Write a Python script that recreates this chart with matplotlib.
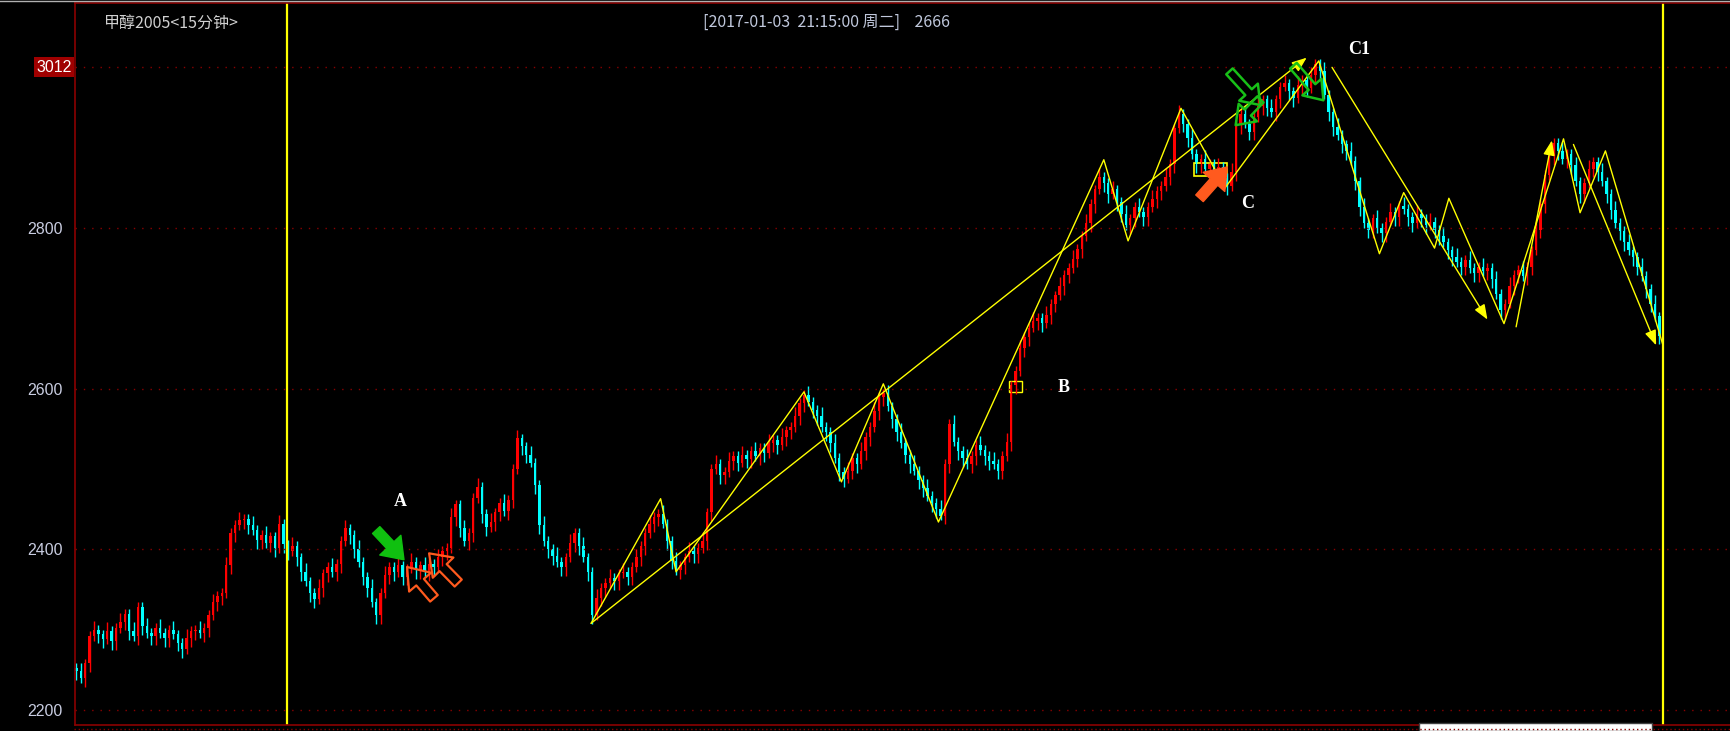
import matplotlib
matplotlib.use('Agg')
import matplotlib.pyplot as plt
from matplotlib.patches import Rectangle

# 15-minute closes, one per bar left to right
closes = [
    2248, 2240, 2258, 2292, 2300, 2294, 2288, 2298, 2286, 2302,
    2310, 2320, 2298, 2292, 2328, 2304, 2296, 2292, 2302, 2296,
    2290, 2300, 2294, 2284, 2276, 2290, 2298, 2300, 2296, 2302,
    2318, 2334, 2342, 2346, 2380, 2420, 2430, 2436, 2438, 2430,
    2424, 2412, 2418, 2408, 2416, 2402, 2432, 2406, 2398, 2404,
    2390, 2372, 2360, 2346, 2338, 2352, 2370, 2378, 2372, 2382,
    2410, 2426, 2418, 2400, 2384, 2366, 2352, 2334, 2318, 2346,
    2368, 2378, 2372, 2380, 2366, 2376, 2384, 2374, 2380, 2372,
    2382, 2378, 2390, 2398, 2402, 2440, 2456, 2426, 2410, 2420,
    2464, 2478, 2444, 2428, 2434, 2446, 2458, 2448, 2462, 2500,
    2538, 2528, 2518, 2508, 2480, 2430, 2410, 2400, 2392, 2384,
    2378, 2390, 2408, 2420, 2404, 2390, 2372, 2318, 2340, 2352,
    2358, 2364, 2360, 2370, 2372, 2366, 2378, 2390, 2404, 2420,
    2432, 2440, 2444, 2432, 2410, 2386, 2374, 2380, 2390, 2398,
    2394, 2402, 2410, 2446, 2500, 2506, 2492, 2496, 2510, 2516,
    2508, 2518, 2512, 2522, 2516, 2526, 2520, 2532, 2536, 2530,
    2540, 2548, 2552, 2566, 2582, 2592, 2584, 2574, 2566, 2552,
    2546, 2532, 2514, 2496, 2488, 2498, 2514, 2506, 2522, 2540,
    2552, 2572, 2590, 2594, 2578, 2562, 2546, 2532, 2518, 2506,
    2498, 2486, 2476, 2466, 2458, 2450, 2442, 2506, 2556, 2534,
    2522, 2514, 2506, 2516, 2530, 2524, 2516, 2510, 2506, 2498,
    2516, 2534, 2604, 2622, 2650, 2664, 2676, 2684, 2688, 2682,
    2692, 2706, 2716, 2728, 2742, 2750, 2762, 2774, 2790, 2806,
    2830, 2848, 2864, 2856, 2842, 2848, 2832, 2818, 2804, 2812,
    2826, 2820, 2814, 2826, 2836, 2846, 2852, 2864, 2880, 2924,
    2942, 2930, 2912, 2892, 2880, 2886, 2874, 2880, 2870, 2876,
    2862, 2852, 2870, 2928, 2942, 2930, 2920, 2938, 2952, 2960,
    2950, 2944, 2960, 2976, 2980, 2970, 2962, 2978, 2984, 2974,
    2990, 3004, 2996, 2966, 2944, 2926, 2916, 2904, 2896, 2884,
    2858, 2826, 2806, 2798, 2812, 2800, 2794, 2808, 2820, 2814,
    2828, 2824, 2814, 2806, 2818, 2812, 2804, 2808, 2798, 2790,
    2782, 2772, 2764, 2758, 2752, 2760, 2750, 2744, 2752, 2746,
    2750, 2736, 2718, 2698, 2706, 2728, 2742, 2748, 2740, 2752,
    2772, 2798, 2830, 2866, 2890, 2906, 2896, 2886, 2892, 2878,
    2858, 2842, 2856, 2874, 2882, 2870, 2858, 2842, 2822, 2806,
    2796, 2782, 2772, 2764, 2752, 2740, 2724, 2706, 2690, 2666,
]
first_open = 2252

# zigzag drawn over the candles (bar index, price)
zz_x = [116.75, 132.5, 136, 165, 173.5, 183, 195.5, 233, 238.5, 250.5, 260.5,
        281.75, 295.5, 301, 308, 311.25, 323.75, 337.25, 341, 346.75, 359.75]
zz_y = [2308, 2463, 2372, 2596, 2484, 2606, 2434, 2885, 2784, 2949, 2850,
        3008, 2768, 2844, 2775, 2837, 2681, 2911, 2819, 2896, 2655]

# straight trend lines ending in an arrow: (x0, y0, x1, y1)
trend_lines = [
    (116.75, 2308, 279.0, 3012),
    (284.75, 3000, 320.0, 2686),
    (326.5, 2677, 334.6, 2909),
    (339.5, 2904, 358.25, 2654),
]

labels = ['A', 'B', 'C', 'C1']
label_x = [72.1, 222.5, 264.2, 288.5]
label_y = [2459, 2601, 2830, 3022]

grid_levels = [2200, 2400, 2600, 2800, 3000]
tick_text = ['2200', '2400', '2600', '2800', '']
session_lines = [47.8, 359.9]

BG = '#000000'
UP = '#ff0000'
DOWN = '#00ffff'
YEL = '#ffff00'
FRAME = '#8b0000'

fig = plt.figure(figsize=(17.3, 7.31), dpi=100, facecolor=BG)
ax = fig.add_axes([75 / 1730, 6 / 731, 1 - 75 / 1730, 722 / 731])
ax.set_facecolor(BG)

opens = [first_open] + closes[:-1]
for i, (o, c) in enumerate(zip(opens, closes)):
    if c > o:
        col = UP
    elif c < o:
        col = DOWN
    else:
        col = '#ffffff'
    # longer shadow on every other bar so the tape looks less smooth
    wick = 11 if i % 3 == 1 else 6
    hi = max(o, c) + wick
    lo = min(o, c) - (17 - wick)
    ax.vlines(i, lo, hi, color=col, lw=1)
    h = abs(c - o) if abs(c - o) > 1.5 else 1.5
    ax.bar(i, h, bottom=min(o, c), width=0.55, color=col, lw=0)

for lvl in grid_levels:
    ax.axhline(lvl, color=FRAME, lw=1, ls=(0, (1, 5)))

for sx in session_lines:
    ax.axvline(sx, color=YEL, lw=1.6)

ax.plot(zz_x, zz_y, color=YEL, lw=1)
for x0, y0, x1, y1 in trend_lines:
    ax.annotate('', xy=(x1, y1), xytext=(x0, y0),
                arrowprops=dict(arrowstyle='-|>,head_length=0.9,head_width=0.35',
                                color=YEL, lw=1, shrinkA=0, shrinkB=0))

# small hollow boxes
ax.add_patch(Rectangle((211.6, 2596), 2.8, 14, fill=False, ec=YEL, lw=1))
ax.add_patch(Rectangle((253.5, 2865), 7.5, 16, fill=False, ec=YEL, lw=1.2))

# hand-drawn style arrows
fat = 'simple,head_length=0.9,head_width=1.3,tail_width=0.45'
ax.annotate('', xy=(74.3, 2387), xytext=(68.0, 2424),
            arrowprops=dict(arrowstyle=fat, fc='#10c010', ec='#10c010',
                            mutation_scale=16, shrinkA=0, shrinkB=0))
for tx, ty, hx, hy in [(81.1, 2339, 75.0, 2378), (86.6, 2358, 80.0, 2395)]:
    ax.annotate('', xy=(hx, hy), xytext=(tx, ty),
                arrowprops=dict(arrowstyle=fat, fc='none', ec='#ff5a1e', lw=1.6,
                                mutation_scale=16, shrinkA=0, shrinkB=0))
ax.annotate('', xy=(261.0, 2876), xytext=(254.7, 2837),
            arrowprops=dict(arrowstyle=fat, fc='#ff5a1e', ec='#ff5a1e',
                            mutation_scale=16, shrinkA=0, shrinkB=0))
for tx, ty, hx, hy in [(261.5, 2995, 268.5, 2953), (268.5, 2960, 262.9, 2928),
                       (276.0, 3002, 282.8, 2959)]:
    ax.annotate('', xy=(hx, hy), xytext=(tx, ty),
                arrowprops=dict(arrowstyle=fat, fc='none', ec='#18c018', lw=1.8,
                                mutation_scale=14, shrinkA=0, shrinkB=0))

for t, x, y in zip(labels, label_x, label_y):
    ax.text(x, y, t, color='white', fontsize=13, fontweight='bold',
            family='Liberation Serif', ha='left', va='center')

ax.set_xlim(-0.3, 375)
ax.set_ylim(2181.3, 3080.1)
ax.set_xticks([])
ax.set_yticks(grid_levels)
ax.set_yticklabels(tick_text)
ax.tick_params(axis='y', length=0, pad=9, colors='#c8cce0', labelsize=11.5)
for lab in ax.get_yticklabels():
    lab.set_family('Liberation Sans')
for side in ['left', 'top', 'bottom']:
    ax.spines[side].set_color(FRAME)
    ax.spines[side].set_linewidth(1.2)
ax.spines['right'].set_visible(False)

# price tag on the 3000 line
fig.text(72 / 1730, 1 - 67 / 731, '3012', color='white', fontsize=11.5,
         family='Liberation Sans', ha='right', va='center',
         bbox=dict(boxstyle='square,pad=0.15', fc='#a00000', ec='none'))

fig.text(104 / 1730, 1 - 23 / 731, '甲醇2005<15分钟>', color='#d0d0d0', fontsize=11.5,
         family=['Noto Sans CJK SC', 'DejaVu Sans'], ha='left', va='center')
fig.text(703 / 1730, 1 - 22 / 731, '[2017-01-03  21:15:00 周二]    2666',
         color='#c0c8dc', fontsize=11.5, family=['Noto Sans CJK SC', 'DejaVu Sans'],
         ha='left', va='center')

# thin frame bits around the window
fig.add_artist(plt.Line2D([0, 1], [1 - 0.5 / 731, 1 - 0.5 / 731], color='#b0b0b0', lw=1))
fig.add_artist(plt.Line2D([74 / 1730, 1], [2 / 731, 2 / 731], color=FRAME, lw=1,
                          ls=(0, (1, 2))))
fig.add_artist(Rectangle((1419 / 1730, 0), 233 / 1730, 8 / 731, fc='white',
                         ec='#404040', lw=1, transform=fig.transFigure))

fig.savefig('out.png', dpi=100, facecolor=BG)
